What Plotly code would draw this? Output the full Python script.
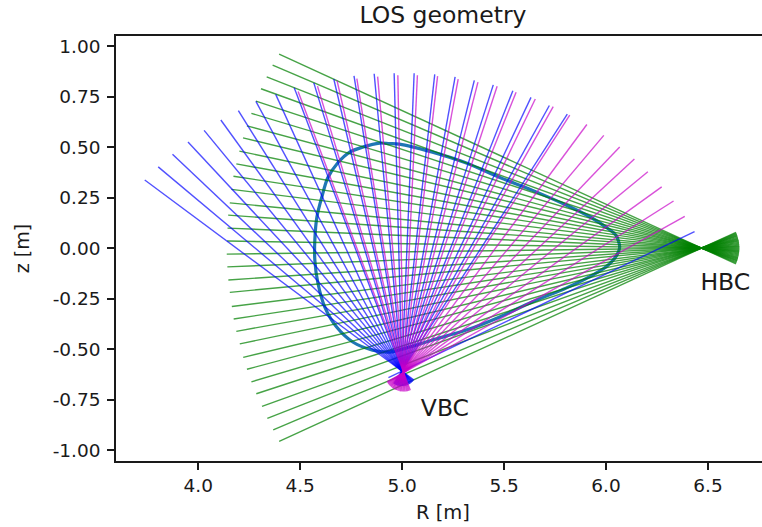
import plotly.graph_objects as go

# Line-of-sight end points [m]
green_outer_R = [4.397,4.365,4.336,4.308,4.283,4.261,4.239,4.220,4.202,4.187,4.173,4.163,4.155,4.147,4.144,4.142,
                 4.140,4.143,4.148,4.155,4.165,4.174,4.187,4.204,4.221,4.239,4.261,4.285,4.313,4.339,4.368,4.397]
green_outer_z = [0.960,0.906,0.848,0.789,0.728,0.667,0.605,0.546,0.480,0.417,0.356,0.291,0.224,0.163,0.099,0.035,
                 -0.030,-0.093,-0.158,-0.219,-0.289,-0.351,-0.412,-0.474,-0.541,-0.600,-0.662,-0.721,-0.784,-0.843,-0.900,-0.957]
green_back_R = [6.637,6.639,6.641,6.643,6.644,6.646,6.647,6.648,6.650,6.651,6.652,6.652,6.653,6.653,6.654,6.654,
                6.654,6.654,6.653,6.653,6.652,6.652,6.651,6.650,6.648,6.647,6.646,6.644,6.643,6.641,6.639,6.637]
green_back_z = [-0.078,-0.0735,-0.0686,-0.0637,-0.059,-0.054,-0.049,-0.0439,-0.0388,-0.0336,-0.0285,-0.0232,-0.0184,-0.0131,-0.0079,-0.0026,
                0.0026,0.0079,0.0131,0.0184,0.0232,0.0285,0.0336,0.0388,0.0439,0.049,0.054,0.059,0.0637,0.0686,0.0735,0.078]

blue_outer_R = [3.738,3.804,3.874,3.950,4.029,4.111,4.197,4.283,4.380,4.471,4.567,4.665,4.764,4.863,4.961,5.059,
                5.160,5.260,5.354,5.447,5.543,5.632,5.722,5.810,6.434]
blue_outer_z = [0.337,0.402,0.465,0.525,0.583,0.634,0.680,0.726,0.761,0.794,0.818,0.837,0.853,0.863,0.866,0.866,
                0.860,0.848,0.830,0.808,0.779,0.746,0.706,0.663,0.081]
blue_back_R = [5.058,5.055,5.052,5.049,5.046,5.042,5.038,5.034,5.029,5.025,5.020,5.016,5.011,5.006,5.001,4.996,
               4.991,4.986,4.981,4.977,4.972,4.968,4.963,4.959,4.933]
blue_back_z = [-0.653,-0.657,-0.660,-0.663,-0.666,-0.669,-0.672,-0.674,-0.677,-0.678,-0.680,-0.681,-0.682,-0.683,-0.683,-0.683,
               -0.683,-0.682,-0.681,-0.680,-0.678,-0.676,-0.674,-0.671,-0.641]

magenta_outer_R = [4.490,4.585,4.681,4.778,4.880,4.979,5.075,5.174,5.275,5.372,5.466,5.559,5.653,5.741,5.822,5.906,
                   5.989,6.067,6.139,6.205,6.273,6.331,6.386]
magenta_outer_z = [0.775,0.802,0.829,0.839,0.849,0.856,0.856,0.851,0.837,0.822,0.801,0.772,0.738,0.700,0.658,0.612,
                   0.558,0.500,0.441,0.378,0.303,0.233,0.157]
magenta_back_R = [5.040,5.034,5.028,5.022,5.015,5.009,5.003,4.996,4.990,4.984,4.978,4.972,4.967,4.961,4.956,4.952,
                  4.947,4.943,4.939,4.935,4.931,4.929,4.926]
magenta_back_z = [-0.704,-0.706,-0.708,-0.709,-0.710,-0.710,-0.710,-0.709,-0.709,-0.707,-0.705,-0.703,-0.701,-0.698,-0.695,-0.692,
                  -0.688,-0.684,-0.680,-0.676,-0.671,-0.666,-0.662]

# Plasma boundary
boundary_R = [4.938,4.890,4.806,4.743,4.684,4.635,4.606,4.582,4.572,4.572,4.587,4.621,4.679,4.758,4.855,4.938,5.036,5.149,
              5.315,5.476,5.637,5.804,5.916,5.999,6.053,6.067,6.048,5.999,5.931,5.804,5.637,5.476,5.315,5.149,4.987,4.938]
boundary_z = [0.517,0.520,0.500,0.475,0.421,0.347,0.252,0.153,0.040,-0.059,-0.173,-0.292,-0.391,-0.465,-0.505,-0.515,-0.490,-0.455,
              -0.406,-0.342,-0.267,-0.198,-0.144,-0.094,-0.035,0.005,0.064,0.104,0.149,0.213,0.287,0.351,0.421,0.475,0.515,0.517]

labels = ["HBC", "VBC"]
label_R = [6.585, 5.21]
label_z = [-0.178, -0.80]

x_ticks = [4.0, 4.5, 5.0, 5.5, 6.0, 6.5]
y_ticks = [-1.0, -0.75, -0.5, -0.25, 0.0, 0.25, 0.5, 0.75, 1.0]

FONT = "DejaVu Sans"
INK = "#1a1a1a"

fig = go.Figure()
fig.add_trace(go.Scatter(x=boundary_R, y=boundary_z, mode="lines",
                         line=dict(color="#1f77b4", width=3.2, shape="spline", smoothing=0.8),
                         hoverinfo="skip"))


def add_rays(r0, z0, r1, z1, colour, alpha):
    for a, b, c, d in zip(r0, z0, r1, z1):
        fig.add_trace(go.Scatter(x=[a, c], y=[b, d], mode="lines", opacity=alpha,
                                 line=dict(color=colour, width=1.4), hoverinfo="skip"))


add_rays(green_outer_R, green_outer_z, green_back_R, green_back_z, "#008000", 0.72)
add_rays(blue_outer_R, blue_outer_z, blue_back_R, blue_back_z, "#0000ff", 0.68)
add_rays(magenta_outer_R, magenta_outer_z, magenta_back_R, magenta_back_z, "#c800c8", 0.68)

fig.add_trace(go.Scatter(x=label_R, y=label_z, mode="text", text=labels, textposition="middle center",
                         textfont=dict(size=23.5, color=INK, family=FONT), hoverinfo="skip"))

axis_common = dict(showgrid=False, zeroline=False, showline=True, linecolor=INK, linewidth=1.6, mirror=True,
                   ticks="outside", ticklen=7, tickwidth=1.5, tickcolor=INK,
                   tickfont=dict(size=18.5, color=INK, family=FONT))

# The reference crops the axes at its right edge, so the figure runs a little past the window.
fig.update_layout(
    width=772, height=527, showlegend=False, plot_bgcolor="white", paper_bgcolor="white",
    margin=dict(l=116, r=0, t=36, b=66),
    title=dict(text="LOS geometry", x=0.5738, xanchor="center", y=0.9715, yanchor="middle",
               font=dict(size=23.5, color=INK, family=FONT)),
    xaxis=dict(range=[3.597, 6.804], tickvals=x_ticks, ticktext=["%.1f" % v for v in x_ticks],
               title=dict(text="R [m]", font=dict(size=19.5, color=INK, family=FONT), standoff=10), **axis_common),
    yaxis=dict(range=[-1.054, 1.05], tickvals=y_ticks, ticktext=["%.2f" % v for v in y_ticks], ticklabelstandoff=3,
               title=dict(text="z [m]", font=dict(size=19, color=INK, family=FONT), standoff=18), **axis_common),
)

fig.write_html("out.html", config={"displayModeBar": False},
               post_script="document.body.style.margin='0';document.body.style.overflow='hidden';")
